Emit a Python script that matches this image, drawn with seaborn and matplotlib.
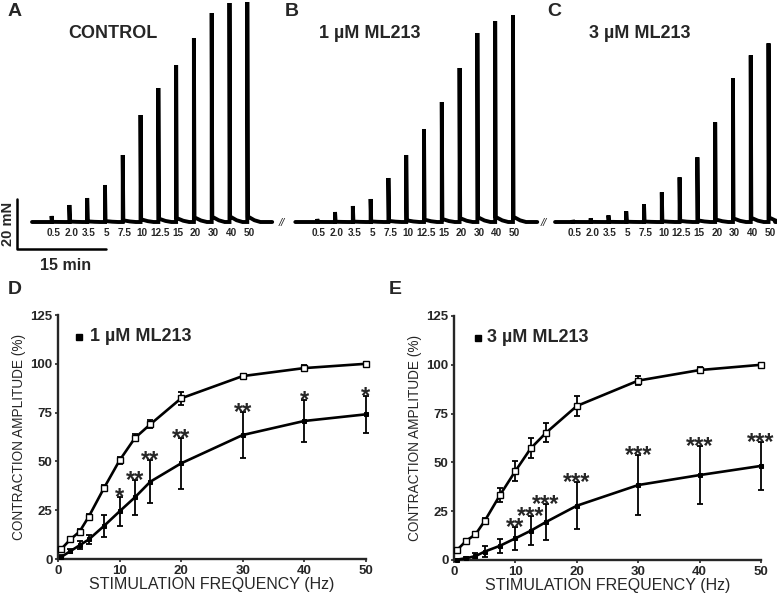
import seaborn as sns
import matplotlib.pyplot as plt

sns.set_style('ticks')
plt.rcParams['font.family'] = ['Liberation Sans', 'DejaVu Sans']

# stimulation frequencies (Hz)
freqs = [0.5, 2, 3.5, 5, 7.5, 10, 12.5, 15, 20, 30, 40, 50]
freq_labels = ['0.5', '2.0', '3.5', '5', '7.5', '10', '12.5', '15', '20', '30', '40', '50']

# peak contraction in the raw traces (mN)
peaks_control = [2.4, 6.8, 9.6, 14.8, 26.8, 42.8, 53.6, 62.8, 73.6, 83.6, 87.6, 88.0]
peaks_ml1 = [1.2, 4.0, 6.4, 9.2, 17.6, 26.8, 37.2, 48.0, 61.6, 75.6, 80.4, 82.8]
peaks_ml3 = [0.8, 1.5, 2.7, 4.3, 7.1, 11.9, 17.9, 25.9, 39.9, 57.5, 66.7, 71.5]
trace_titles = ['CONTROL', '1 µM ML213', '3 µM ML213']
step_min = 3  # minutes between stimulation steps

# frequency-response curves, mean and SEM (% of control max)
ctrl_d = [5, 10, 14, 21.7, 36.5, 50.5, 62, 69, 82.3, 93.7, 97.8, 100]
ctrl_d_err = [1.2, 1.2, 1.2, 1.5, 1.5, 1.8, 1.8, 2.0, 3.3, 1.2, 1.5, 1.0]
ml1 = [1, 4, 7, 10, 17, 24.4, 31.6, 39.6, 49, 63.5, 70.7, 74.1]
ml1_err = [0.8, 1.0, 2.0, 2.5, 5.5, 7.5, 9.0, 11.0, 12.9, 12.0, 10.6, 9.6]
stars_d = ['', '', '', '', '', '*', '**', '**', '**', '**', '*', '*']

ctrl_e = [5.1, 9.9, 13.1, 20, 33.3, 45.6, 57.2, 65.2, 78.9, 91.9, 97.3, 100]
ctrl_e_err = [1.0, 1.0, 1.0, 1.5, 3.4, 5.3, 5.1, 5.0, 5.0, 2.4, 1.5, 1.0]
ml3 = [0.2, 0.9, 2, 4.3, 7.3, 11.1, 15, 19.5, 27.8, 38.4, 43.5, 48.2]
ml3_err = [0.5, 0.8, 1.5, 2.7, 3.6, 6.0, 7.3, 9.0, 12.0, 15.5, 14.9, 12.1]
stars_e = ['', '', '', '', '', '**', '***', '***', '***', '***', '***', '***']

W, H = 777, 598
fig = plt.figure(figsize=(W / 100, H / 100), dpi=100)

# ---- raw traces (A, B, C) ----
px_per_min, px_per_mN, base_px = 5.93, 2.5, 222
top_h = 290
ax_top = fig.add_axes([0, 1 - top_h / H, 1, top_h / H])
ax_top.set_xlim(0, W / px_per_min)
ax_top.set_ylim(-(top_h - base_px) / px_per_mN, base_px / px_per_mN)
ax_top.axis('off')

seg_start = [5.4, 49.8, 93.6]
seg_first = [8.7, 53.5, 96.6]
seg_end = [45.9, 90.6, 130.7]
title_x = [19.1, 62.4, 107.9]


def build_trace(t0, t1, t_end, peaks):
    xs, ys = [t0], [0]
    for i, h in enumerate(peaks):
        t = t1 + i * step_min
        xs += [t, t, t + 0.1, t + 1.2, t + 2.2]
        ys += [0, h, h * 0.025, h * 0.008, 0]
    xs.append(t_end)
    ys.append(0)
    return xs, ys


for k, peaks in enumerate([peaks_control, peaks_ml1, peaks_ml3]):
    xs, ys = build_trace(seg_start[k], seg_first[k], seg_end[k], peaks)
    ax_top.plot(xs, ys, color='black', lw=2.8, solid_joinstyle='miter')
    for i, lab in enumerate(freq_labels):
        ax_top.text(seg_first[k] + i * step_min + 0.3, -4.6, lab, ha='center', va='center',
                    fontsize=7.2, fontweight='bold')
    ax_top.text(title_x[k], 75.6, trace_titles[k], ha='center', va='center',
                fontsize=13, fontweight='bold')

# break marks
for bx in [47.55, 91.7]:
    ax_top.text(bx, -0.2, '//', ha='center', va='center', fontsize=8, style='italic')

# scale bar
ax_top.plot([2.87, 2.87, 17.87], [9.2, -10.8, -10.8], color='black', lw=1.8)
ax_top.text(1.4, -0.8, '20 mN', rotation=90, ha='center', va='center',
            fontsize=10.5, fontweight='bold')
ax_top.text(11.0, -17.6, '15 min', ha='center', va='center', fontsize=11.5, fontweight='bold')

# panel letters
for lab, x, y in [('A', 14.5, 11.5), ('B', 291.5, 11.5), ('C', 554.5, 11.5),
                  ('D', 14.5, 290), ('E', 395, 290)]:
    fig.text(x / W, 1 - y / H, lab, ha='center', va='center', fontsize=14, fontweight='bold')


# ---- frequency-response curves (D, E) ----
def response_panel(rect, ctrl, ctrl_err, drug, drug_err, stars, label, leg_x, txt_x):
    ax = fig.add_axes(rect)
    ax.errorbar(freqs, drug, yerr=drug_err, fmt='none', ecolor='black',
                elinewidth=1.3, capsize=2.5, capthick=1.3, zorder=2, clip_on=False)
    ax.errorbar(freqs, ctrl, yerr=ctrl_err, fmt='none', ecolor='black',
                elinewidth=1.3, capsize=2.5, capthick=1.3, zorder=2, clip_on=False)
    sns.lineplot(x=freqs, y=drug, ax=ax, color='black', lw=1.9, marker='s',
                 markersize=3.5, markerfacecolor='black', markeredgecolor='black', zorder=3)
    sns.lineplot(x=freqs, y=ctrl, ax=ax, color='black', lw=1.9, marker='s',
                 markersize=4.8, markerfacecolor='white', markeredgecolor='black',
                 markeredgewidth=1.0, zorder=4)
    for ln in ax.lines:
        ln.set_clip_on(False)
    for f, m, e, s in zip(freqs, drug, drug_err, stars):
        if s:
            ax.annotate(s, xy=(f, m + e), xytext=(0, -5), textcoords='offset points',
                        ha='center', va='baseline', fontsize=17, fontweight='bold')
    ax.set_xlim(0, 50)
    ax.set_ylim(0, 125)
    ax.set_xticks([0, 10, 20, 30, 40, 50])
    ax.set_yticks([0, 25, 50, 75, 100, 125])
    sns.despine(ax=ax)
    for sp in ['left', 'bottom']:
        ax.spines[sp].set_linewidth(1.7)
    ax.tick_params(width=1.2, length=2.5, pad=1.5, labelsize=9.5)
    for t in ax.get_xticklabels() + ax.get_yticklabels():
        t.set_fontweight('bold')
    ax.set_xlabel('STIMULATION FREQUENCY (Hz)', fontsize=11.5, labelpad=0)
    ax.set_ylabel('CONTRACTION AMPLITUDE (%)', fontsize=9.8, labelpad=3)
    ax.plot([leg_x], [0.91], marker='s', markersize=5, color='black',
            transform=ax.transAxes, clip_on=False)
    ax.text(txt_x, 0.91, label, transform=ax.transAxes, ha='left', va='center',
            fontsize=13, fontweight='bold')
    return ax


response_panel([58 / W, 1 - 559 / H, 307.7 / W, 244 / H], ctrl_d, ctrl_d_err,
               ml1, ml1_err, stars_d, '1 µM ML213', 0.068, 0.104)
response_panel([454 / W, 1 - 560 / H, 307 / W, 244 / H], ctrl_e, ctrl_e_err,
               ml3, ml3_err, stars_e, '3 µM ML213', 0.078, 0.107)

fig.savefig('out.png', dpi=100)
